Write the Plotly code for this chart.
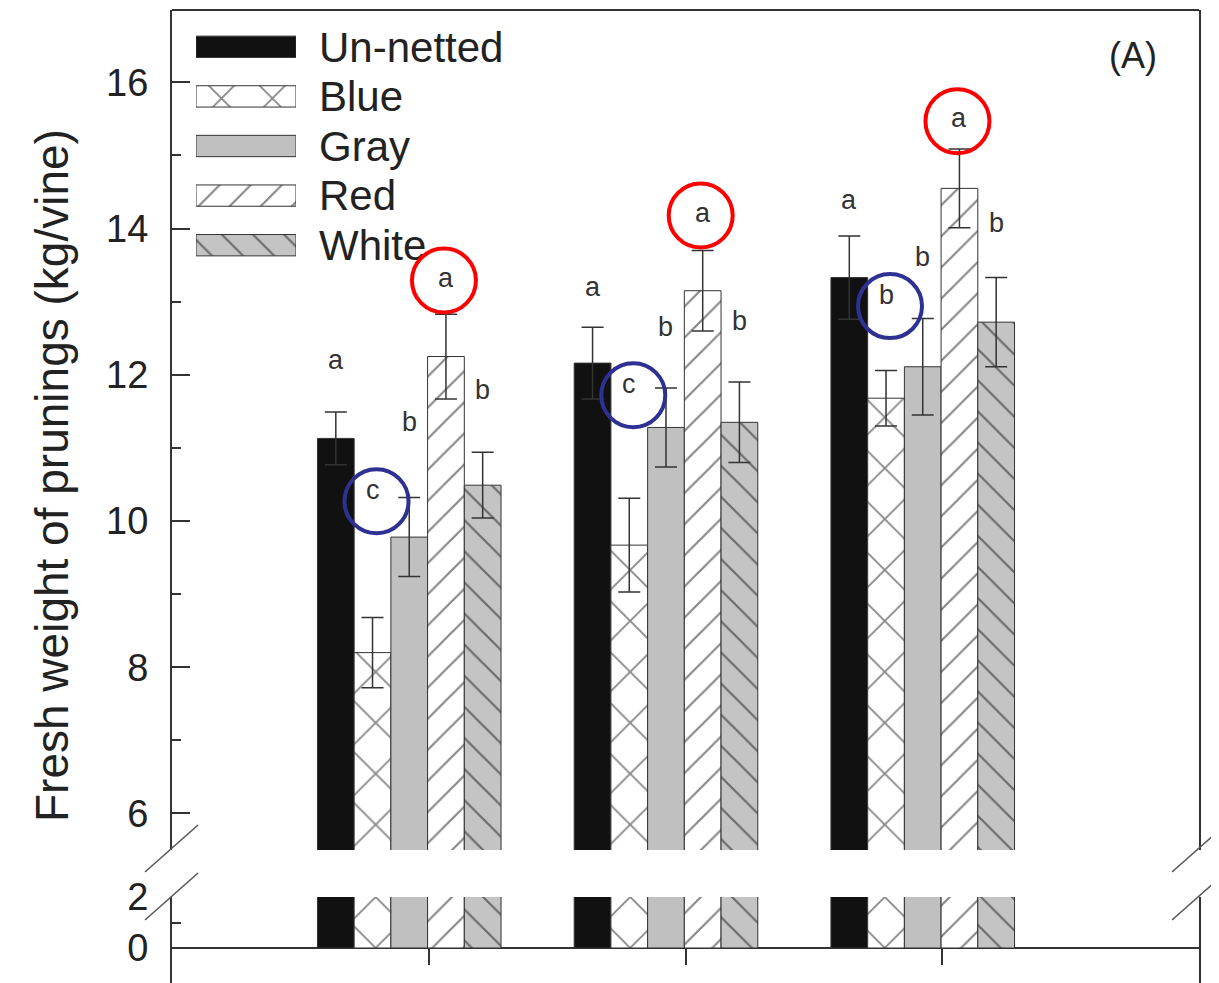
import plotly.graph_objects as go

# mean fresh weight of prunings (kg/vine) per season, one list per net colour
treatments = ["Un-netted", "Blue", "Gray", "Red", "White"]
seasons = [1, 2, 3]

unnetted = [11.13, 12.16, 13.33]
blue = [8.20, 9.67, 11.68]
gray = [9.78, 11.28, 12.11]
red = [12.25, 13.15, 14.55]
white = [10.49, 11.35, 12.72]

unnetted_se = [0.36, 0.49, 0.57]
blue_se = [0.48, 0.64, 0.38]
gray_se = [0.54, 0.54, 0.66]
red_se = [0.58, 0.55, 0.54]
white_se = [0.45, 0.55, 0.61]

# significance letters and the height where each one sits
unnetted_letters = ["a", "a", "a"]
blue_letters = ["c", "c", "b"]
gray_letters = ["b", "b", "b"]
red_letters = ["a", "a", "a"]
white_letters = ["b", "b", "b"]

unnetted_letter_y = [12.20, 13.20, 14.39]
blue_letter_y = [10.42, 11.87, 13.09]
gray_letter_y = [11.35, 12.65, 13.61]
red_letter_y = [13.33, 14.22, 15.51]
white_letter_y = [11.79, 12.74, 14.07]

means = [unnetted, blue, gray, red, white]
errors = [unnetted_se, blue_se, gray_se, red_se, white_se]
letters = [unnetted_letters, blue_letters, gray_letters, red_letters, white_letters]
letter_y = [unnetted_letter_y, blue_letter_y, gray_letter_y, red_letter_y, white_letter_y]

LINE = "#333333"
styles = [
    dict(color="#111111"),
    dict(color="white", pattern=dict(shape="x", size=36, solidity=0.1,
                                     fgcolor="#111111", bgcolor="white", fillmode="overlay")),
    dict(color="#c0c0c0"),
    dict(color="white", pattern=dict(shape="/", size=22, solidity=0.1,
                                     fgcolor="#111111", bgcolor="white", fillmode="overlay")),
    dict(color="#c4c4c4", pattern=dict(shape="\\", size=22, solidity=0.1,
                                       fgcolor="#111111", bgcolor="#c4c4c4", fillmode="overlay")),
]

# the page body adds 8px around the figure, so margins are trimmed by that
W, H = 1219, 983
BODY = 8
ML, MR, MT, MB = 172 - BODY, 20 + BODY, 10 - BODY, BODY
PW, PH = W - ML - MR, H - MT - MB


def px(x):
    return (x - BODY - ML) / PW


def py(y):
    return (H - MB - (y - BODY)) / PH


bar_w = 0.143
group_shift = -0.076

fig = go.Figure()
for i, name in enumerate(treatments):
    xs = [g + group_shift + (i - 2) * bar_w for g in seasons]
    marker = dict(line=dict(color=LINE, width=1), **styles[i])
    fig.add_trace(go.Bar(x=xs, y=means[i], width=bar_w, marker=marker,
                         xaxis="x", yaxis="y", showlegend=False,
                         error_y=dict(type="data", array=errors[i], color=LINE,
                                      thickness=1.5, width=11)))
    fig.add_trace(go.Bar(x=xs, y=means[i], width=bar_w, marker=marker,
                         xaxis="x", yaxis="y2", showlegend=False))
    # legend swatch drawn as a horizontal bar on its own small axes
    fig.add_trace(go.Bar(y=[name], x=[1], orientation="h", width=0.43,
                         marker=marker, xaxis="x3", yaxis="y3", showlegend=False))

    for j, g in enumerate(seasons):
        fig.add_annotation(x=xs[j], y=letter_y[i][j], xref="x", yref="y",
                           text=letters[i][j], showarrow=False,
                           font=dict(size=27, color=LINE))

# circled letters
circles = [(3, "#ff0000", -2, 3), (1, "#2e3192", 4, 11)]
for idx, col, dx, dy in circles:
    for j, g in enumerate(seasons):
        xc = g + group_shift + (idx - 2) * bar_w
        fig.add_shape(type="circle", xref="x", yref="y",
                      xsizemode="pixel", ysizemode="pixel",
                      xanchor=xc, yanchor=letter_y[idx][j],
                      x0=-32 + dx, x1=32 + dx, y0=-32 - dy, y1=32 - dy,
                      line=dict(color=col, width=4))

# frame top and axis break marks
fig.add_shape(type="line", xref="paper", yref="paper", x0=0, x1=1, y0=1, y1=1,
              line=dict(color=LINE, width=2))
for x0 in (145, 1172):
    for y0 in (872, 920):
        fig.add_shape(type="line", xref="paper", yref="paper",
                      x0=px(x0), y0=py(y0), x1=px(x0 + 53), y1=py(y0 - 47),
                      line=dict(color="#555555", width=1.5))

fig.add_annotation(xref="paper", yref="paper", x=px(52), y=py(476),
                   xanchor="center", yanchor="middle",
                   text="Fresh weight of prunings (kg/vine)", textangle=-90,
                   showarrow=False, font=dict(size=46, color="#222222"))
fig.add_annotation(xref="paper", yref="paper", x=px(1133), y=py(55),
                   xanchor="center", yanchor="middle",
                   text="(A)", showarrow=False, font=dict(size=36, color="#222222"))

yaxis_common = dict(showline=True, mirror=True, linecolor=LINE, linewidth=2,
                    ticks="inside", ticklen=18, tickwidth=2, tickcolor=LINE,
                    tickfont=dict(size=38, color="#222222"), ticklabelstandoff=14,
                    showgrid=False, zeroline=False, anchor="x", automargin=False)

fig.update_layout(
    width=W, height=H,
    margin=dict(l=ML, r=MR, t=MT, b=MB, autoexpand=False),
    paper_bgcolor="white", plot_bgcolor="white",
    font=dict(family="Liberation Sans, Arial, sans-serif", color="#222222"),
    barmode="overlay", showlegend=False,
    xaxis=dict(domain=[0, 1], range=[0, 4], anchor="free", position=py(948),
               showline=True, linecolor=LINE, linewidth=2,
               ticks="outside", ticklen=16, tickwidth=2, tickcolor=LINE,
               tickvals=seasons, showticklabels=False,
               showgrid=False, zeroline=False, automargin=False),
    yaxis=dict(domain=[py(850), 1], range=[5.5, 16.99], dtick=2, tick0=0,
               minor=dict(ticks="inside", ticklen=9, tickwidth=1.5,
                          tickcolor=LINE, dtick=1),
               **yaxis_common),
    yaxis2=dict(domain=[0, py(897)], range=[-1.373, 2], tickvals=[0, 2],
                minor=dict(ticks="inside", ticklen=9, tickwidth=1.5,
                           tickcolor=LINE, tickvals=[1]),
                **yaxis_common),
    xaxis3=dict(domain=[px(196), px(296)], range=[0, 1], anchor="y3", visible=False),
    yaxis3=dict(domain=[py(270), py(22)], anchor="x3", side="right",
                type="category", autorange="reversed", showline=False,
                tickmode="array", tickvals=treatments, ticktext=treatments,
                ticks="", showgrid=False, zeroline=False, automargin=False,
                tickfont=dict(size=42, color="#222222"), ticklabelstandoff=22),
)

fig.write_html("out.html")
